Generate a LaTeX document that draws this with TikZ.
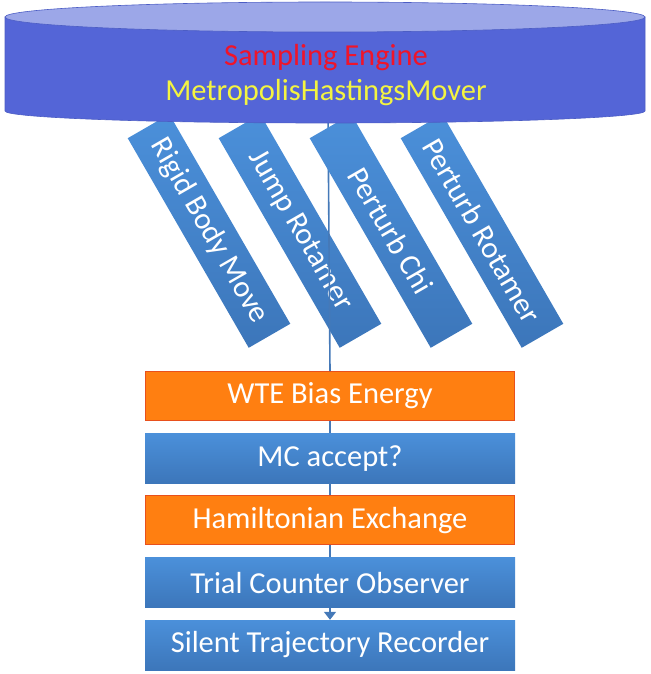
\documentclass[tikz,border=0pt]{standalone}
\usepackage{fontspec}
\setmainfont{Carlito}
\usepackage{tikz}
\usetikzlibrary{arrows.meta,positioning}
\definecolor{cylside}{HTML}{5465D7}
\definecolor{cyltop}{HTML}{9CA7E8}
\definecolor{cylrim}{HTML}{4C5DC4}
\definecolor{boxblue}{HTML}{4B90DA}
\definecolor{boxbluedark}{HTML}{3C76BA}
\definecolor{boxorange}{HTML}{FF7F11}
\definecolor{orangerim}{HTML}{E8501C}
\definecolor{flowline}{HTML}{4579B8}
\definecolor{enginered}{HTML}{F0142A}
\definecolor{engineyellow}{HTML}{F4F440}

\begin{document}
\begin{tikzpicture}[x=1pt,y=-1pt, node distance=12pt,
  every node/.style={font=\fontsize{30.5}{35}\selectfont,text=white,align=center,inner sep=0pt},
  movebox/.style={top color=boxblue,bottom color=boxbluedark,rotate=-60,minimum width=242pt,minimum height=48pt},
  bluebox/.style={top color=boxblue,bottom color=boxbluedark,minimum width=370pt,minimum height=50pt},
  orangebox/.style={draw=orangerim,line width=1pt,fill=boxorange,minimum width=369pt,minimum height=49pt},
  flow/.style={draw=flowline,line width=1.6pt}]
\useasboundingbox (0,0) rectangle (650,674);
% moves hanging under the engine
\node[movebox] (rigid) at (209,231) {Rigid Body Move};
\node[movebox] (jump) at (300,231) {Jump Rotamer};
% trial step chain
\node[orangebox] (wte) at (330,396) {WTE Bias Energy};
\node[bluebox,below=of wte] (accept) {MC accept?};
\node[orangebox,below=of accept] (hamex) {Hamiltonian Exchange};
\node[bluebox,below=of hamex] (counter) {Trial Counter Observer};
\node[bluebox,below=of counter] (recorder) {Silent Trajectory Recorder};
\coordinate (engbase) at (328,112);
\draw[flow] (engbase) -- (wte.north);
\draw[flow] (wte) -- (accept);
\draw[flow] (accept) -- (hamex);
\draw[flow] (hamex) -- (counter);
\draw[flow,-{Triangle[width=12pt,length=8pt]}] (counter) -- (recorder);
\node[movebox] (chi) at (391,231) {Perturb Chi};
\node[movebox] (rotamer) at (482,231) {Perturb Rotamer};
% engine drum
\filldraw[fill=cylside,draw=cylrim,line width=0.6pt] (5,17) -- (5,111)
  arc[start angle=180,end angle=0,x radius=320,y radius=12] -- (645,17) -- cycle;
\filldraw[fill=cyltop,draw=cylrim,line width=0.6pt] (325,17) ellipse[x radius=320,y radius=15];
\node (engine) at (326,75) {\textcolor{enginered}{Sampling Engine}\\\textcolor{engineyellow}{MetropolisHastingsMover}};
\end{tikzpicture}
\end{document}
